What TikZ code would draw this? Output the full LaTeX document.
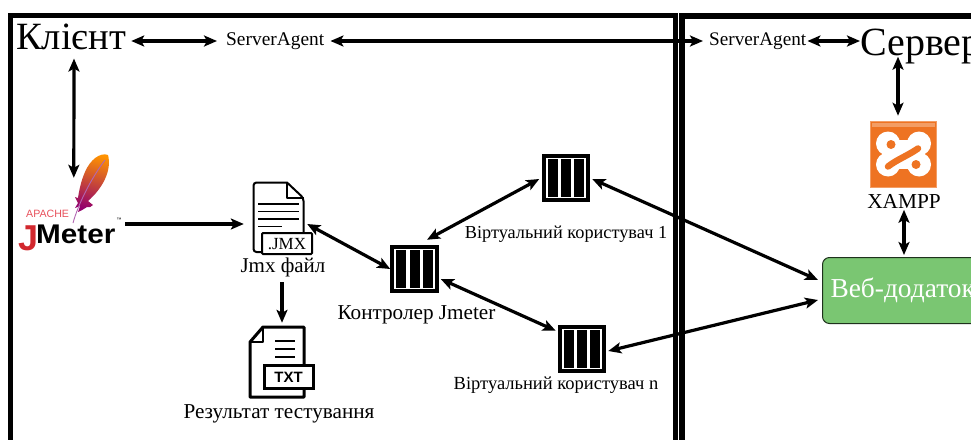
\documentclass[tikz,border=0pt]{standalone}
\usepackage{fontspec}
\setmainfont{Liberation Serif}
\setsansfont{Liberation Sans}
\usetikzlibrary{arrows.meta,calc}
\definecolor{webgreen}{HTML}{7AC672}
\definecolor{xorange}{HTML}{EE7322}
\definecolor{jmred}{HTML}{D2282E}
\definecolor{jmpink}{HTML}{E8505B}
\tikzset{
  frameline/.style={line width=5pt,draw=black},
  conn/.style={line width=3.2pt,{Stealth[length=13pt,width=11pt,inset=3pt]}-{Stealth[length=13pt,width=11pt,inset=3pt]}},
  connone/.style={line width=3.2pt,-{Stealth[length=13pt,width=11pt,inset=3pt]}},
  lbl/.style={inner sep=0pt,text height=0.7*#1pt,text depth=0.2*#1pt,font=\fontsize{#1}{#1}\selectfont},
  iconbox/.style={inner sep=0pt,minimum width=#1},
  queue/.style={draw=black,fill=white,line width=4pt,minimum size=44.5pt,inner sep=0pt,
    path picture={
      \foreach \i in {-1,0,1}{
        \fill[black] ($(path picture bounding box.center)+(\i*13.3-5,-19)$) rectangle ++(10,38);
      }
    }},
}
\begin{document}
\begin{tikzpicture}[x=1pt,y=-1pt]
\useasboundingbox (0,0) rectangle (971,439);
\clip (0,0) rectangle (971,439);
\fill[white] (0,0) rectangle (971,439);
% frames
\draw[frameline] (10.5,445) -- (10.5,15.5) -- (675,15.5) -- (675,445);
\draw[frameline,line width=6pt] (682,445) -- (682,15.5) -- (980,15.5);
% text nodes
\node[lbl=38.6,anchor=west] (kl) at (16,40) {Клієнт};
\node[lbl=19.4,anchor=west] (sa1) at (226,41) {ServerAgent};
\node[lbl=19.2,anchor=west] (sa2) at (709,41) {ServerAgent};
\node[lbl=40,anchor=west] (srv) at (860,45) {Сервер};
\node[lbl=21] (jf) at (283,267.5) {Jmx файл};
\node[lbl=21.2] (ct) at (416.5,314) {Контролер Jmeter};
\node[lbl=21.2] (rt) at (279,413.5) {Результат тестування};
\node[lbl=18.3] (v1) at (566,233.5) {Віртуальний користувач 1};
\node[lbl=18.5] (vn) at (556,384.4) {Віртуальний користувач n};
\node[lbl=21.3] (xl) at (904,203) {XAMPP};
% queues
\node[queue] (qc) at (414.5,269) {};
\node[queue] (q1) at (566,178) {};
\node[queue] (qn) at (582,349) {};
% web
\node[draw=black!75!webgreen,fill=webgreen,line width=1pt,rounded corners=7pt,text=white,
  minimum width=190pt,minimum height=66pt,inner xsep=8pt,anchor=west,text width=174pt,align=left,
  font=\fontsize{27.4}{27.4}\selectfont] (web) at (822,290.5) {Веб-додаток};
% JMeter logo
\node[iconbox=99pt,minimum height=95pt] (jm) at (67.5,202.5) {};
\shade[top color=orange!85!yellow,middle color=red!75!black,bottom color=violet!85!red,shading angle=-15]
  (108,155) .. controls (100,152) and (90,160) .. (85,172)
  .. controls (81,181) and (79,191) .. (78,198)
  -- (75,197) -- (78,203) -- (75,208) -- (80,206) -- (78,212)
  .. controls (83,210) and (85,208) .. (87,207)
  .. controls (89,208) and (91,207) .. (93,205)
  -- (88,201) .. controls (103,188) and (112,170) .. (108,155) -- cycle;
\draw[violet!60!white,line width=0.9pt] (73,223) .. controls (78,205) and (90,180) .. (105,160);
\node[inner sep=0pt,anchor=base west,text=jmpink,font=\sffamily\fontsize{10.6}{10.6}\selectfont] (jma) at (26,217.5) {APACHE};
\node[inner sep=0pt,anchor=base west,text=jmred,font=\sffamily\bfseries\fontsize{36}{36}\selectfont] (jmj) at (18,250) {J};
\node[inner sep=0pt,anchor=base west,font=\sffamily\bfseries\fontsize{27}{27}\selectfont,xscale=1.1] (jmm) at (36,243) {Meter};
\node[inner sep=0pt,anchor=base west,font=\sffamily\fontsize{5}{5}\selectfont] (jmt) at (116.5,221) {™};
% JMX icon
\node[iconbox=59pt,minimum height=72pt] (jx) at (282.5,218) {};
\draw[line width=2pt,line join=round,fill=white,rounded corners=3pt] (287,182.5) -- (253.5,182.5) -- (253.5,252) -- (270,252) -- (303.5,252) -- (303.5,198) [sharp corners] -- cycle;
\draw[line width=2pt,line join=round] (287,182.5) -- (287,198) -- (303.5,198);
\draw[line width=1.8pt] (258,204) -- (299,204) (258,211.5) -- (299,211.5) (258,219) -- (299,219) (258,226.5) -- (282,226.5);
\draw[line width=2pt,fill=white,rounded corners=1pt] (262,233) rectangle (312,254);
\node[inner sep=0pt,font=\fontsize{17}{17}\selectfont] (jxt) at (287,244) {.JMX};
% TXT icon
\node[iconbox=65pt,minimum height=72pt] (tx) at (281.5,362) {};
\draw[line width=3pt,line join=round,fill=white] (263,327) -- (304,327) -- (304,397) -- (250,397) -- (250,342) -- cycle;
\draw[line width=2.5pt,line join=round] (263,327) -- (263,342) -- (250,342);
\draw[line width=2.6pt] (275,341) -- (295,341) (275,349) -- (295,349) (275,357) -- (295,357);
\draw[line width=3pt,fill=white] (264,365.5) rectangle (313,388.5);
\node[inner sep=0pt,font=\sffamily\bfseries\fontsize{15}{15}\selectfont] (txt) at (288.5,377) {TXT};
% XAMPP logo
\node[fill=xorange,draw=xorange!70!white,line width=.6pt,minimum size=66pt,inner sep=0pt] (xa) at (903.5,154) {};
\fill[white,opacity=.3] (872,123) rectangle (935,127);
\begin{scope}[yshift=-1.5pt]
\fill[white] (888,142) circle (12) (919,142) circle (12) (888,163) circle (12) (919,163) circle (12);
\fill[white] (884,138) rectangle (923,167);
\fill[xorange] (903.5,131) circle (4) (903.5,174) circle (4) (875,152.5) circle (3) (932,152.5) circle (3);
\draw[xorange,line width=6.5pt,line cap=round] (888,165) .. controls (897,158) and (908,154) .. (918,147);
\fill[xorange] (891,143) circle (4.5) (916,163) circle (4.5);
\end{scope}
% connectors
\draw[conn] ($(kl.east)+(5,1)$) -- ($(sa1.west)+(-9,0)$);
\draw[conn] ($(sa1.east)+(6,0)$) -- ($(sa2.west)+(-6,0)$);
\draw[conn] ($(sa2.east)+(1,0)$) -- ($(srv.west)+(0,-4)$);
\draw[conn] ($(kl.south west)+(58,1)$) -- ($(jm.north west)+(56,23)$);
\draw[connone] ($(jm.east)+(8,21.5)$) -- ($(jx.west)+(-9,6)$);
\draw[conn] ($(jx.east)+(-5,6)$) -- (qc.west);
\draw[connone] ($(jf.south)+(-1,5)$) -- ($(tx.north)+(0.5,-3)$);
\draw[conn] ($(qc.north)+(12.5,-5)$) -- ($(q1.west)+(-2.5,1)$);
\draw[conn] ($(qc.east)+(2,10)$) -- ($(qn.north west)+(-2,6)$);
\draw[conn] ($(q1.east)+(2,1)$) -- ($(web.west)+(-4,-10.5)$);
\draw[conn] ($(qn.east)+(2,2)$) -- ($(web.west)+(-4,9.5)$);
\draw[conn] ($(xa.north)+(-5.5,-5)$) -- ($(xa.north)+(-5.5,-64)$);
\draw[conn] ($(xl.south)+(0,-3)$) -- ($(xl.south |- web.north)+(0,-2)$);
\end{tikzpicture}
\end{document}
